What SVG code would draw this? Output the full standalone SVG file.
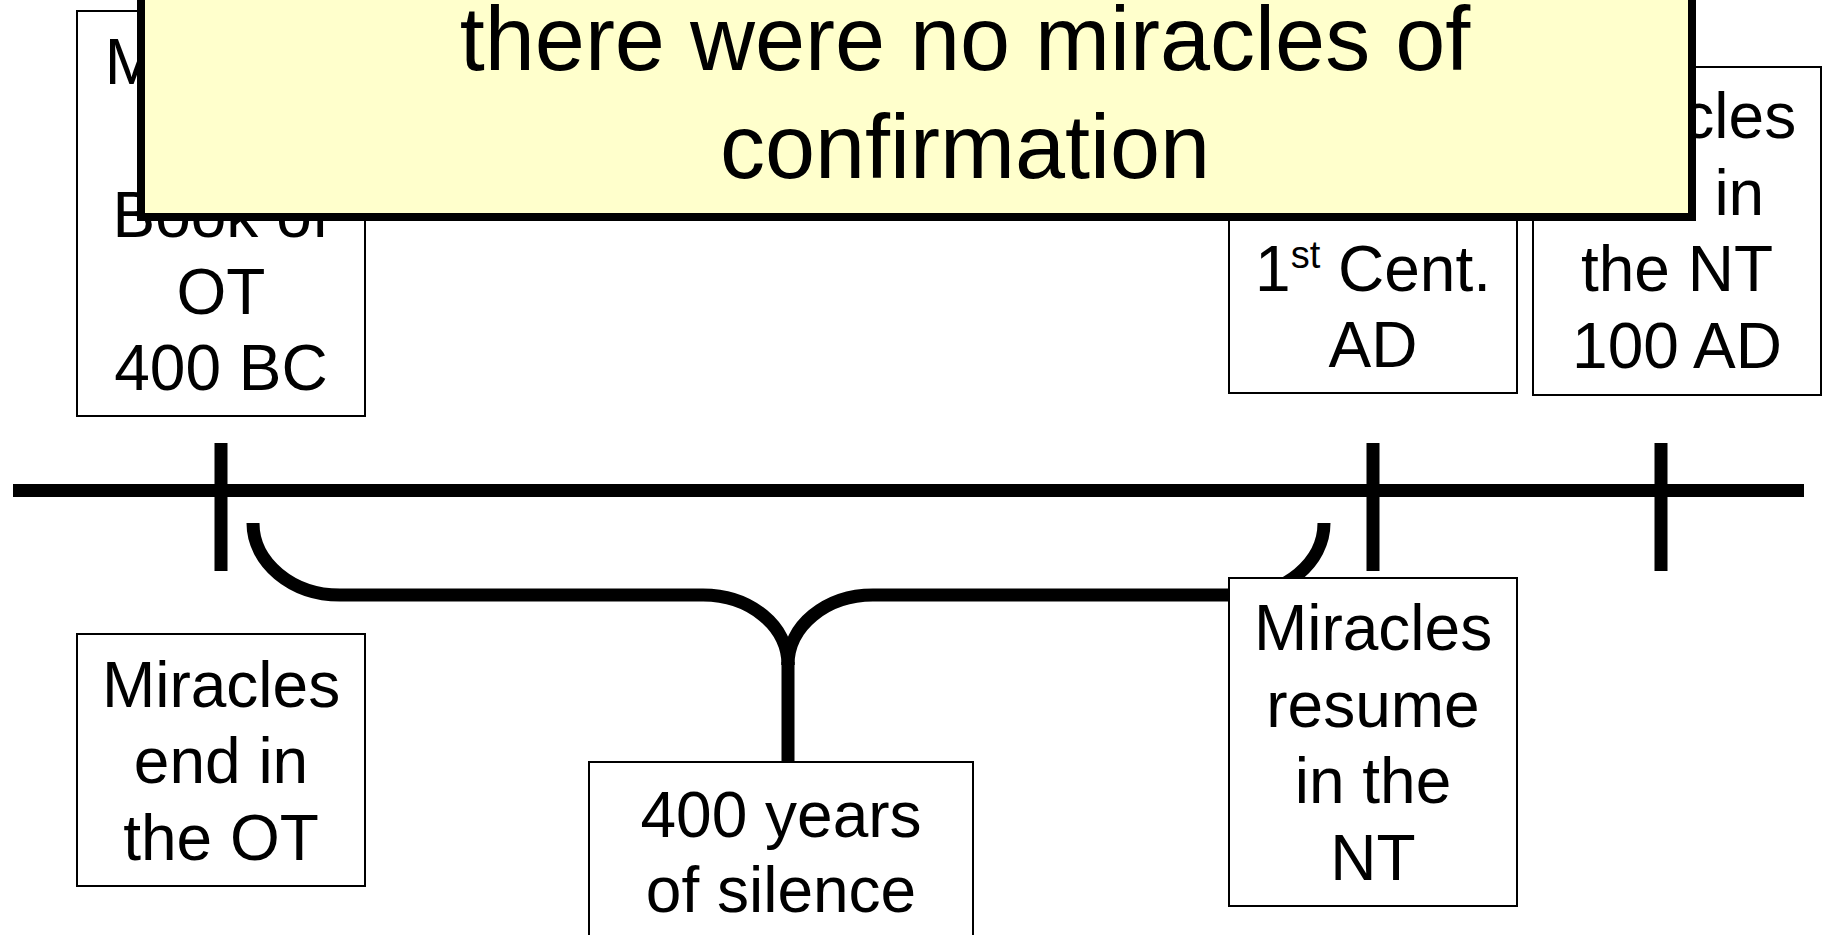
<svg xmlns="http://www.w3.org/2000/svg" width="1825" height="935" viewBox="0 0 1825 935">
<style>
.box{fill:#ffffff;stroke:#000000;stroke-width:2}
.t{font-family:"Liberation Sans",Arial,sans-serif;font-size:64px;fill:#000000;text-anchor:middle}
.big{font-family:"Liberation Sans",Arial,sans-serif;font-size:90px;fill:#000000;text-anchor:middle}
.ln{fill:none;stroke:#000000;stroke-width:13;stroke-linecap:butt}
.br{fill:none;stroke:#000000;stroke-width:13;stroke-linecap:butt;stroke-linejoin:round}
</style>
<rect x="0" y="0" width="1825" height="935" fill="#ffffff"/>
<g id="connectors">
  <line class="ln" x1="13" y1="490.5" x2="1804" y2="490.5"/>
  <line class="ln" x1="221" y1="443" x2="221" y2="571"/>
  <line class="ln" x1="1373" y1="443" x2="1373" y2="571"/>
  <line class="ln" x1="1661" y1="443" x2="1661" y2="571"/>
  <path class="br" d="M 253 523 C 253 562.7 292 595 340 595 L 703 595 C 750 595 788 626 788 665"/>
  <path class="br" d="M 1324 523 C 1324 562.7 1285 595 1237 595 L 873 595 C 826 595 788 626 788 665"/>
  <line class="ln" x1="788" y1="662" x2="788" y2="763"/>
</g>
<g id="node-malachi">
  <rect class="box" x="77" y="11" width="288" height="405"/>
  <text class="t" x="215" y="84">Malachi</text>
  <text class="t" x="221" y="237">Book of</text>
  <text class="t" x="221" y="313.5">OT</text>
  <text class="t" x="221" y="390">400 BC</text>
</g>
<g id="node-first-century">
  <rect class="box" x="1229" y="66" width="288" height="327"/>
  <text class="t" x="1373" y="291">1<tspan font-size="38" dy="-23">st</tspan><tspan dy="23"> Cent.</tspan></text>
  <text class="t" x="1373" y="367">AD</text>
</g>
<g id="node-nt-end">
  <rect class="box" x="1533" y="67" width="288" height="328"/>
  <text class="t" x="1677" y="138">Miracles</text>
  <text class="t" x="1677" y="215">end in</text>
  <text class="t" x="1677" y="291">the NT</text>
  <text class="t" x="1677" y="368">100 AD</text>
</g>
<g id="node-ot-end">
  <rect class="box" x="77" y="634" width="288" height="252"/>
  <text class="t" x="221" y="706.5">Miracles</text>
  <text class="t" x="221" y="783">end in</text>
  <text class="t" x="221" y="859.5">the OT</text>
</g>
<g id="node-silence">
  <rect class="box" x="589" y="762" width="384" height="260"/>
  <text class="t" x="781" y="836.5">400 years</text>
  <text class="t" x="781" y="912">of silence</text>
</g>
<g id="node-resume">
  <rect class="box" x="1229" y="578" width="288" height="328"/>
  <text class="t" x="1373" y="650">Miracles</text>
  <text class="t" x="1373" y="726.5">resume</text>
  <text class="t" x="1373" y="803">in the</text>
  <text class="t" x="1373" y="880">NT</text>
</g>
<g id="node-callout">
  <rect x="141" y="-30" width="1551" height="247" fill="#ffffcc" stroke="#000000" stroke-width="8"/>
  <text class="big" x="965" y="70">there were no miracles of</text>
  <text class="big" x="965" y="178">confirmation</text>
</g>
</svg>
